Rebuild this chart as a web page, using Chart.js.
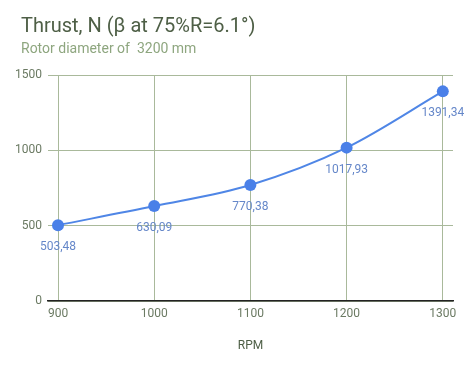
<!DOCTYPE html>
<html><head><meta charset="utf-8">
<script src="https://cdn.jsdelivr.net/npm/chart.js@4/dist/chart.umd.min.js"></script>
<style>html,body{margin:0;padding:0;background:#fff}#wrap{width:472px;height:366px;position:relative}</style>
</head><body><div id="wrap"><canvas id="c"></canvas></div>
<script>
const rpm = [900, 1000, 1100, 1200, 1300];
const thrust = [503.48, 630.09, 770.38, 1017.93, 1391.34];
const yTicks = [0, 500, 1000, 1500];
const titleText = 'Thrust, N (β at 75%R=6.1°)';
const subtitleText = 'Rotor diameter of  3200 mm';
const xTitle = 'RPM';

const FONT = 'Roboto, "Noto Sans", sans-serif';

const headerPlugin = {
  id: 'header',
  afterDraw(chart) {
    const ctx = chart.ctx;
    ctx.save();
    ctx.textBaseline = 'alphabetic';
    ctx.textAlign = 'left';
    ctx.fillStyle = '#4e5f46';
    ctx.font = '20px ' + FONT;
    ctx.fillText(titleText, 21, 32);
    ctx.fillStyle = '#8ea67f';
    ctx.font = '14px ' + FONT;
    ctx.fillText(subtitleText, 21, 53);
    ctx.restore();
  }
};

const labelPlugin = {
  id: 'pointLabels',
  afterDatasetsDraw(chart) {
    const ctx = chart.ctx;
    const meta = chart.getDatasetMeta(0);
    ctx.save();
    ctx.font = '12px ' + FONT;
    ctx.textAlign = 'center';
    ctx.textBaseline = 'middle';
    meta.data.forEach((pt, i) => {
      const txt = thrust[i].toFixed(2).replace('.', ',');
      let x = pt.x;
      const w = ctx.measureText(txt).width;
      if (x + w / 2 > chart.width - 2) x = chart.width - 2 - w / 2;
      const y = pt.y + 22;
      ctx.fillStyle = '#6587c9';
      ctx.fillText(txt, x, y);
    });
    ctx.restore();
  }
};

new Chart(document.getElementById('c'), {
  type: 'line',
  data: {
    datasets: [{
      data: rpm.map((r, i) => ({x: r, y: thrust[i]})),
      borderColor: '#4f86e6',
      backgroundColor: '#4a80e8',
      borderWidth: 2,
      pointRadius: 6,
      pointHoverRadius: 6,
      pointBorderWidth: 0,
      cubicInterpolationMode: 'monotone',
      fill: false
    }]
  },
  options: {
    responsive: true,
    maintainAspectRatio: false,
    animation: false,
    layout: {padding: {left: 0, right: 19, top: 75, bottom: 0}},
    plugins: {legend: {display: false}, tooltip: {enabled: false}, title: {display: false}},
    scales: {
      x: {
        type: 'linear',
        min: 889.6,
        max: 1310.6,
        afterBuildTicks(s) { s.ticks = rpm.map(v => ({value: v})); },
        afterFit(s) { s.height = 65; },
        grid: {color: '#a9b99b', drawTicks: false, lineWidth: 1},
        border: {display: true, color: '#222', width: 1.5},
        ticks: {color: '#6b7a63', font: {family: FONT, size: 12}, padding: 6, maxRotation: 0,
                callback: v => String(v)},
        title: {display: true, text: xTitle, color: '#4e5f46', font: {family: FONT, size: 12}, padding: {top: 4, bottom: 13}}
      },
      y: {
        min: 0,
        max: 1500,
        afterBuildTicks(s) { s.ticks = yTicks.map(v => ({value: v})); },
        afterFit(s) { s.width = 48; },
        grid: {color: '#a9b99b', drawTicks: false, lineWidth: 1},
        border: {display: false},
        ticks: {color: '#6b7a63', font: {family: FONT, size: 12}, padding: 6, callback: v => String(v)}
      }
    }
  },
  plugins: [headerPlugin, labelPlugin]
});
</script></body></html>
